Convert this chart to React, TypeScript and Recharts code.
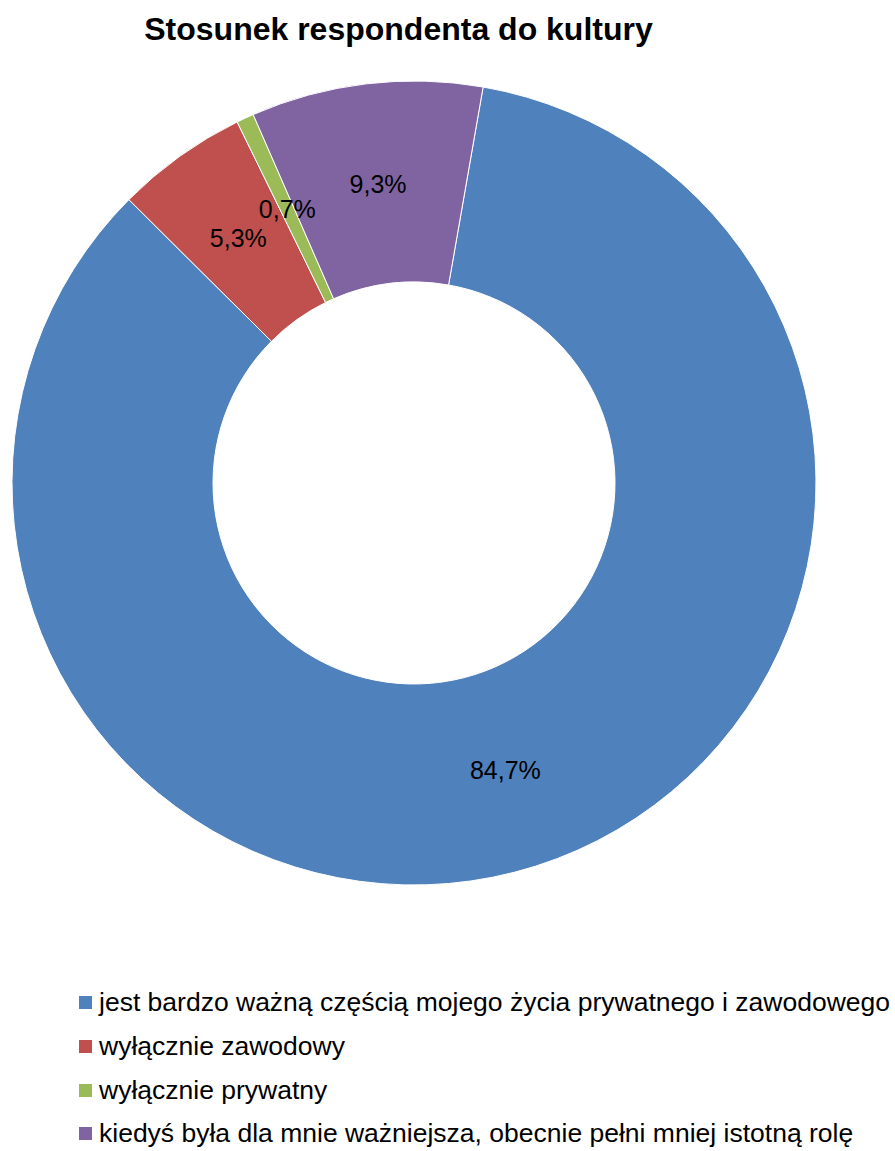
import React from "react";
import { PieChart, Pie, Cell, Legend } from "recharts";

const categories = [
  "jest bardzo ważną częścią mojego życia prywatnego i zawodowego",
  "wyłącznie zawodowy",
  "wyłącznie prywatny",
  "kiedyś była dla mnie ważniejsza, obecnie pełni mniej istotną rolę",
];
const values = [84.7, 5.3, 0.7, 9.3];
const colors = ["#4F81BD", "#C0504D", "#9BBB59", "#8064A2"];
const title = "Stosunek respondenta do kultury";

const data = categories.map((name, i) => ({ name, value: values[i] }));

const RADIAN = Math.PI / 180;
const FONT = "'Liberation Sans', Arial, sans-serif";

const renderLabel = (props: any) => {
  const { cx, cy, midAngle, innerRadius, outerRadius, value } = props;
  const r = (innerRadius + outerRadius) / 2;
  const x = cx + r * Math.cos(-midAngle * RADIAN);
  const y = cy + r * Math.sin(-midAngle * RADIAN);
  return (
    <text
      x={x}
      y={y}
      textAnchor="middle"
      dominantBaseline="central"
      fill="#000"
      fontSize={25}
      fontFamily={FONT}
    >
      {value.toFixed(1).replace(".", ",") + "%"}
    </text>
  );
};

const renderLegend = () => (
  <div style={{ fontFamily: FONT, fontSize: 26.5, color: "#000" }}>
    {categories.map((c, i) => (
      <div
        key={c}
        style={{ display: "flex", alignItems: "center", height: 43.7, whiteSpace: "nowrap" }}
      >
        <span
          style={{
            display: "inline-block",
            width: 13,
            height: 13,
            background: colors[i],
            marginRight: 7,
          }}
        />
        <span>{c}</span>
      </div>
    ))}
  </div>
);

export default function App() {
  return (
    <div style={{ position: "absolute", left: 0, top: 0, width: 895, height: 1151, background: "#fff" }}>
      <div
        style={{
          position: "absolute",
          left: 0,
          top: 11,
          width: 797,
          textAlign: "center",
          fontFamily: FONT,
          fontWeight: "bold",
          fontSize: 32,
          lineHeight: "36px",
          color: "#000",
          whiteSpace: "nowrap",
        }}
      >
        {title}
      </div>
      <PieChart width={895} height={1151} margin={{ top: 0, right: 0, bottom: 0, left: 0 }}>
        <Pie
          data={data}
          dataKey="value"
          nameKey="name"
          cx={414}
          cy={483}
          innerRadius={201}
          outerRadius={402}
          startAngle={80.1}
          endAngle={-279.9}
          stroke="#fff"
          strokeWidth={1}
          label={renderLabel}
          labelLine={false}
          isAnimationActive={false}
        >
          {data.map((d, i) => (
            <Cell key={d.name} fill={colors[i]} />
          ))}
        </Pie>
        <Legend
          verticalAlign="bottom"
          align="left"
          content={renderLegend}
          wrapperStyle={{ left: 79, top: 981, bottom: "auto", width: 816 }}
        />
      </PieChart>
    </div>
  );
}
